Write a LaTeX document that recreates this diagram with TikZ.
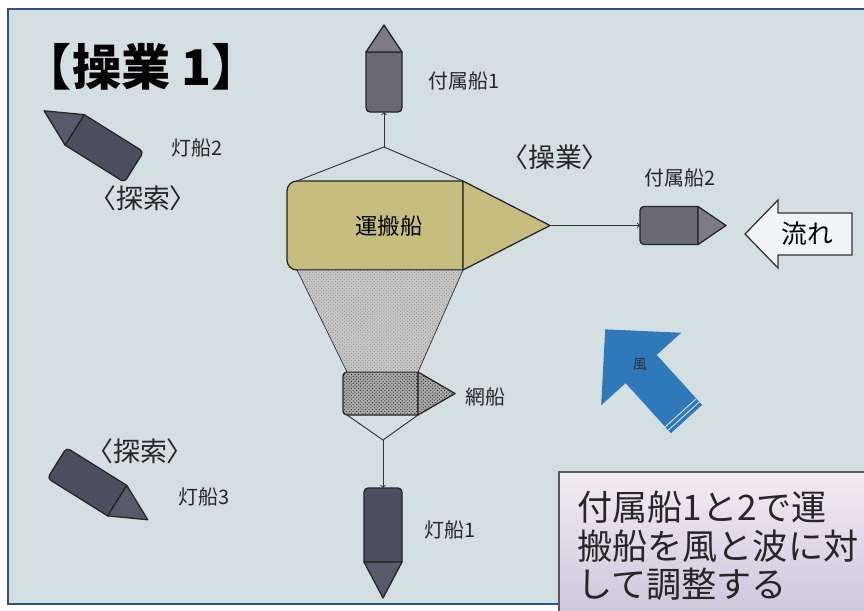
\documentclass[tikz,border=0pt]{standalone}
\usepackage{fontspec}
\setmainfont{Noto Sans CJK JP}
\usetikzlibrary{patterns}

\definecolor{sea}{HTML}{D3DFE1}
\definecolor{frameblue}{HTML}{2C5283}
\definecolor{cargo}{HTML}{C6BD7E}
\definecolor{tenderhull}{HTML}{6A6A70}
\definecolor{tenderbow}{HTML}{7C7C82}
\definecolor{lamphull}{HTML}{4B4E5E}
\definecolor{lampbow}{HTML}{575A6A}
\definecolor{windblue}{HTML}{2F78B9}
\definecolor{notetop}{HTML}{F3ECF1}
\definecolor{notebottom}{HTML}{CEC7DD}

\tikzset{
  hull/.style={draw=black!85,line width=1.1pt,line join=round},
  rig/.style={draw=black!80,line width=0.8pt},
  boatname/.style={font=\fontsize{17}{19}\selectfont,text=black!85},
  work/.style={font=\fontsize{23}{25}\selectfont,text=black!85},
  netfill/.style={preaction={fill=gray!65},pattern=crosshatch dots,pattern color=black!90},
  notetext/.style={anchor=base west,inner sep=0pt,font=\fontsize{30}{33}\selectfont,text=black!85}
}

% #1 name, #2 stern centre, #3 heading, #4 hull length, #5 bow length,
% #6 half beam, #7 stern radius, #8 hull options, #9 bow options
\newcommand{\drawboat}[9]{%
  \begin{scope}[shift={(#2)},rotate=#3]
    \draw[hull,#8] (#4,-#6) -- (#7,-#6) arc[start angle=270,end angle=180,radius=#7]
      -- (0,#6-#7) arc[start angle=180,end angle=90,radius=#7] -- (#4,#6) -- cycle;
    \draw[hull,#9] (#4,#6) -- (#4+#5,0) -- (#4,-#6) -- cycle;
    \coordinate (#1-stern) at (0,0);
    \coordinate (#1-bow) at (#4+#5,0);
    \coordinate (#1-aft-l) at (#7,#6);
    \coordinate (#1-aft-r) at (#7,-#6);
    \coordinate (#1-fwd-l) at (#4,#6);
    \coordinate (#1-fwd-r) at (#4,-#6);
  \end{scope}}

\begin{document}
\begin{tikzpicture}[x=0.03cm,y=0.03cm]
  \useasboundingbox (0,0) rectangle (864,-610);
  \fill[white] (0,0) rectangle (864,-610);
  \fill[sea] (8,-9) rectangle (864,-604);
  \draw[frameblue,line width=1.8pt] (864,-9) -- (8,-9) -- (8,-604) -- (559,-604);

  \node (title) at (142,-67) {\bfseries\fontsize{42}{44}\selectfont 【操業 1】};

  % carrier with the net behind it
  \drawboat{unpan}{287,-225.5}{0}{176}{87}{44.5}{10}{fill=cargo}{fill=cargo}
  \node[font=\fontsize{19}{21}\selectfont] (unpan) at (389,-226) {運搬船};

  \drawboat{ami}{343,-393.5}{0}{75}{37}{21.5}{4}{netfill}{netfill}
  \draw[rig,line width=0.6pt,preaction={fill=gray!45},pattern=crosshatch dots,pattern color=gray!85]
    (unpan-aft-r) -- (unpan-fwd-r) -- (ami-fwd-l) -- (ami-aft-l) -- cycle;
  \node[boatname] (ami) at (485,-397) {網船};

  % tenders
  \drawboat{fb1}{384,-112}{90}{60}{27}{18}{4}{fill=tenderhull}{fill=tenderbow}
  \drawboat{fb2}{640,-225.5}{0}{58}{28}{19}{4}{fill=tenderhull}{fill=tenderbow}
  \node[boatname] (fb1) at (464,-81) {付属船1};
  \node[boatname] (fb2) at (680,-178) {付属船2};
  \node[work] (sagyo) at (555,-157) {〈操業〉};

  % light boats
  \drawboat{ls1}{383,-488}{-90}{74}{36}{19}{4}{fill=lamphull}{fill=lampbow}
  \drawboat{ls2}{134,-167}{148}{70}{36}{18}{4}{fill=lamphull}{fill=lampbow}
  \drawboat{ls3}{57,-463}{-32}{71}{36}{18}{4}{fill=lamphull}{fill=lampbow}
  \node[boatname] (ls1) at (450,-530) {灯船1};
  \node[boatname] (ls2) at (197,-148) {灯船2};
  \node[boatname] (ls3) at (204,-497) {灯船3};
  \node[work] (tansaku2) at (143,-198) {〈探索〉};
  \node[work] (tansaku3) at (140,-451) {〈探索〉};

  % tow lines
  \coordinate (yoke-top) at (384,-147);
  \coordinate (yoke-low) at (383,-440);
  \draw[rig] (unpan-aft-l) -- (yoke-top) -- (unpan-fwd-l);
  \draw[rig,->] (yoke-top) -- (fb1-stern);
  \draw[rig,->] (unpan-bow) -- (fb2-stern);
  \draw[rig] (ami-aft-r) -- (yoke-low) -- (ami-fwd-r);
  \draw[rig,->] (yoke-low) -- (ls1-stern);

  % current
  \draw[line width=1.1pt,draw=black!80,fill=white!70!sea]
    (745,-234) -- (778,-200) -- (778,-213) -- (852,-213) -- (852,-255)
    -- (778,-255) -- (778,-268) -- cycle;
  \node[font=\fontsize{22}{24}\selectfont] (nagare) at (807,-234) {流れ};

  % wind
  \begin{scope}[shift={(686.5,-419)},rotate=132.2]
    \fill[windblue] (0,-21) -- (67.5,-21) -- (67.5,-54) -- (121,0) -- (67.5,54)
      -- (67.5,21) -- (0,21) -- cycle;
    \draw[white!85!windblue,line width=0.7pt] (4,-21) -- (4,21) (8.5,-21) -- (8.5,21);
  \end{scope}
  \node[font=\fontsize{12}{14}\selectfont,text=black!80] (kaze) at (640,-365) {風};

  % note
  \shade[top color=notetop,bottom color=notebottom] (559,-472) rectangle (866,-612);
  \draw[draw=black!65,line width=1.2pt] (866,-472) -- (559,-472) -- (559,-612);
  \node[notetext] (note1) at (577,-520) {付属船1と2で運};
  \node[notetext] (note2) at (577,-559) {搬船を風と波に対};
  \node[notetext] (note3) at (577,-597) {して調整する};
\end{tikzpicture}
\end{document}
